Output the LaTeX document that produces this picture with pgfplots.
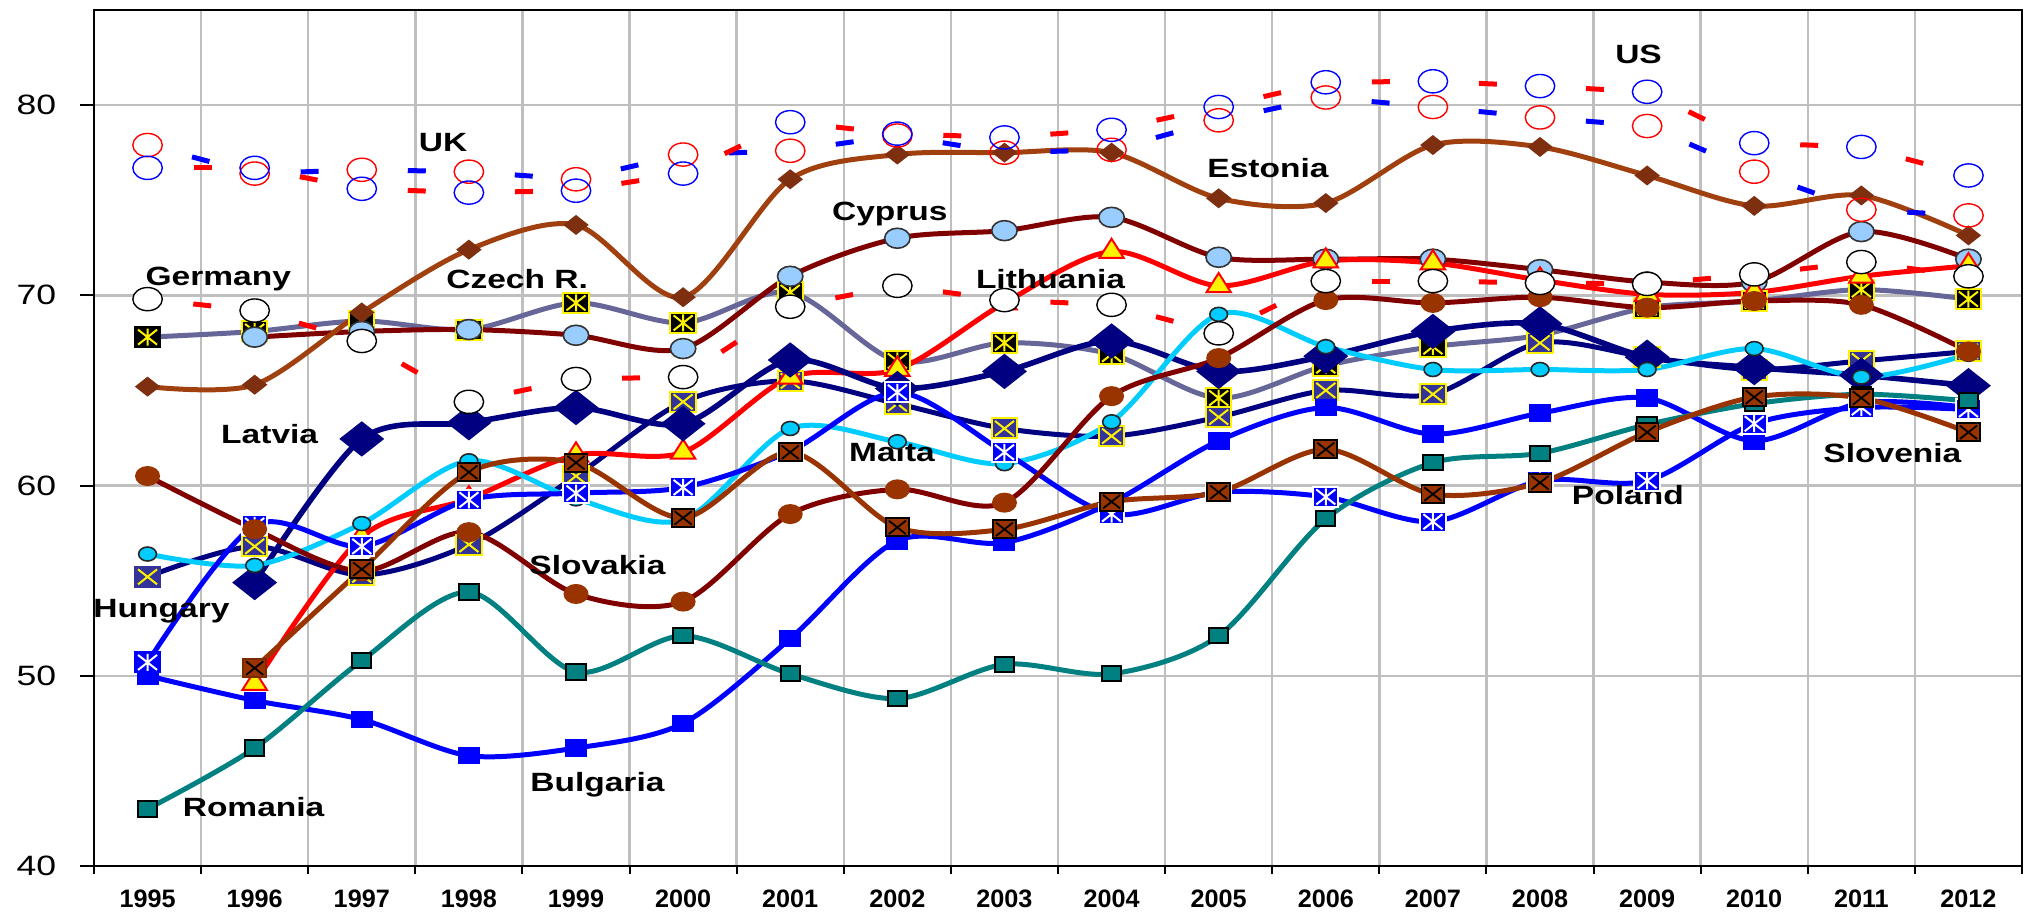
\documentclass[border=0pt]{standalone}
\usepackage{fontspec}
\setmainfont[FakeStretch=1.27]{Liberation Sans}
\newfontfamily\plainfont{Liberation Sans}
\usepackage{pgfplots}
\pgfplotsset{compat=1.18}
\usepackage{pgfplotstable}

\definecolor{cEE}{HTML}{A0400F}
\definecolor{cEEm}{HTML}{7E2F10}
\definecolor{cmaroon}{HTML}{800000}
\definecolor{cltblue}{HTML}{99CCFF}
\definecolor{cgrape}{HTML}{666699}
\definecolor{cnavy}{HTML}{000080}
\definecolor{cslate}{HTML}{333399}
\definecolor{ccyan}{HTML}{00CCFF}
\definecolor{csienna}{HTML}{993300}
\definecolor{cteal}{HTML}{008080}

% composite marks: filled square with a cross / asterisk on top
\newcommand\marksquare{\pgfpathrectangle{\pgfqpoint{-\pgfplotmarksize}{-\pgfplotmarksize}}{\pgfqpoint{2\pgfplotmarksize}{2\pgfplotmarksize}}\pgfusepathqfillstroke}
\newcommand\markx{\pgfpathmoveto{\pgfqpoint{-.75\pgfplotmarksize}{-.75\pgfplotmarksize}}\pgfpathlineto{\pgfqpoint{.75\pgfplotmarksize}{.75\pgfplotmarksize}}\pgfpathmoveto{\pgfqpoint{-.75\pgfplotmarksize}{.75\pgfplotmarksize}}\pgfpathlineto{\pgfqpoint{.75\pgfplotmarksize}{-.75\pgfplotmarksize}}}
\newcommand\markbar{\pgfpathmoveto{\pgfqpoint{0pt}{-.85\pgfplotmarksize}}\pgfpathlineto{\pgfqpoint{0pt}{.85\pgfplotmarksize}}}
\pgfdeclareplotmark{sqxy}{\marksquare\pgfsetstrokecolor{yellow}\markx\pgfusepathqstroke}
\pgfdeclareplotmark{sqxk}{\marksquare\pgfsetstrokecolor{black}\markx\pgfusepathqstroke}
\pgfdeclareplotmark{sqay}{\marksquare\pgfsetstrokecolor{yellow}\markx\markbar\pgfusepathqstroke}
\pgfdeclareplotmark{sqaw}{\marksquare\pgfsetstrokecolor{white}\markx\markbar\pgfusepathqstroke}
\pgfdeclareplotmark{dia}{\pgfpathmoveto{\pgfqpoint{0pt}{\pgfplotmarksize}}\pgfpathlineto{\pgfqpoint{\pgfplotmarksize}{0pt}}\pgfpathlineto{\pgfqpoint{0pt}{-\pgfplotmarksize}}\pgfpathlineto{\pgfqpoint{-\pgfplotmarksize}{0pt}}\pgfpathclose\pgfusepathqfillstroke}

\newcommand\ytfont{\fontsize{7pt}{8pt}\selectfont}
\newcommand\yrfont{\plainfont\fontsize{6.3pt}{7pt}\selectfont\bfseries}
\newcommand\lblfont{\fontsize{6.6pt}{7.5pt}\selectfont\bfseries}

% columns: US (blue circles), UK (red circles), then the EU countries
\pgfplotstableread{
i  US    UK    DE    EE    CY    LT    CZ    LV    HU    MT    SK    PL    BG    RO    SI
0  76.7  77.9  69.8  65.2  nan   nan   67.8  nan   55.2  56.4  60.5  50.7  50.0  43.0  nan
1  76.7  76.4  69.2  65.3  67.8  49.6  68.1  54.9  56.8  55.8  57.7  57.9  48.7  46.2  50.4
2  75.6  76.6  67.6  69.1  68.1  57.3  68.65 62.45 55.3  58.0  55.5  56.8  47.7  50.8  55.6
3  75.4  76.5  64.4  72.4  68.2  59.3  68.2  63.3  56.9  61.3  57.55 59.25 45.8  54.4  60.7
4  75.5  76.1  65.6  73.7  67.9  61.6  69.6  64.1  60.5  59.3  54.3  59.6  46.2  50.2  61.2
5  76.4  77.4  65.7  69.9  67.2  61.75 68.55 63.25 64.4  58.2  53.9  59.9  47.5  52.1  58.3
6  79.1  77.6  69.4  76.1  71.0  65.7  70.15 66.6  65.5  63.0  58.5  61.8  51.95 50.1  61.75
7  78.5  78.4  70.5  77.4  73.0  66.1  66.55 65.1  64.3  62.3  59.8  64.9  57.1  48.8  57.8
8  78.3  77.5  69.75 77.5  73.4  69.6  67.5  66.0  63.0  61.15 59.1  61.75 57.0  50.6  57.7
9  78.7  77.65 69.5  77.5  74.1  72.3  66.9  67.6  62.6  63.35 64.7  58.5  59.1  50.1  59.15
10 79.9  79.2  68.0  75.1  72.0  70.5  64.6  66.0  63.6  69.0  66.7  59.65 62.35 52.1  59.65
11 81.2  80.4  70.75 74.85 71.9  71.8  66.3  66.8  65.0  67.3  69.75 59.4  64.1  58.25 61.9
12 81.25 79.9  70.75 77.9  71.9  71.7  67.3  68.1  64.8  66.1  69.6  58.1  62.7  61.2  59.55
13 81.0  79.35 70.65 77.8  71.35 70.8  67.9  68.5  67.5  66.1  69.9  60.25 63.8  61.7  60.15
14 80.7  78.9  70.6  76.3  70.7  70.05 69.35 66.75 66.75 66.1  69.35 60.25 64.6  63.2  62.8
15 78.0  76.5  71.1  74.7  70.7  70.15 69.7  66.2  66.1  67.2  69.7  63.25 62.35 64.3  64.65
16 77.8  74.5  71.75 75.25 73.35 71.0  70.3  65.8  66.55 65.7  69.5  64.1  64.35 64.8  64.6
17 76.3  74.2  71.0  73.15 71.9  71.55 69.8  65.25 67.05 66.9  67.05 64.0  64.1  64.45 62.8
}\data
% step to the next year, so each dashed segment is its own path (one dash per segment)
\pgfplotstablecreatecol[create col/expr={\nextrow{US}-\thisrow{US}}]{dUS}{\data}
\pgfplotstablecreatecol[create col/expr={\nextrow{UK}-\thisrow{UK}}]{dUK}{\data}
\pgfplotstablecreatecol[create col/expr={\nextrow{DE}-\thisrow{DE}}]{dDE}{\data}

\begin{document}
\begin{tikzpicture}
\begin{axis}[
    scale only axis,
    width=482pt, height=214pt,
    xmin=-0.5, xmax=17.5, ymin=40, ymax=85,
    xtick={0,...,17},
    xticklabels={1995,1996,1997,1998,1999,2000,2001,2002,2003,2004,2005,2006,2007,2008,2009,2010,2011,2012},
    minor xtick={-0.5,0.5,...,17.5},
    ytick={40,50,60,70,80},
    yticklabels={40,50,60,70,80},
    tick pos=left, tick align=outside,
    major tick length=3.5pt, minor tick length=2pt,
    tick style={black, line width=0.5pt},
    major x tick style={draw=none},
    xminorgrids, ymajorgrids,
    grid style={gray!50, line width=0.6pt},
    minor grid style={gray!50, line width=0.6pt},
    axis line style={black, line width=0.55pt},
    xticklabel style={font=\yrfont, inner sep=0pt, yshift=-2.4pt},
    yticklabel style={font=\ytfont, xshift=-2.4pt},
    every axis plot/.append style={line width=1.25pt, smooth},
    unbounded coords=discard,
    dashseg/.style={no markers, line width=1.25pt, restrict x to domain=-1:16.5,
        dash pattern=on 4.5pt off 100pt, dash phase=93pt},
]
% Czech R.
\addplot[cgrape, mark=sqay, mark size=2.5pt, mark options={fill=black, draw=black, line width=0.5pt, xscale=1.27}] table[x=i, y=CZ] {\data};
% Hungary
\addplot[cnavy, mark=sqxy, mark size=2.5pt, mark options={fill=cslate, draw=cslate, line width=0.5pt, xscale=1.27}] table[x=i, y=HU] {\data};
% Cyprus
\addplot[cmaroon, mark=*, mark size=2.5pt, mark options={fill=cltblue, draw=black!80, line width=0.4pt, xscale=1.27}] table[x=i, y=CY] {\data};
% Lithuania
\addplot[red, mark=triangle*, mark size=3.2pt, mark options={fill=yellow, draw=red, line width=0.5pt, xscale=1.1}] table[x=i, y=LT] {\data};
% Latvia
\addplot[cnavy, line width=1.4pt, mark=dia, mark size=4.1pt, mark options={fill=cnavy, draw=cnavy, line width=0.5pt, xscale=1.27}] table[x=i, y=LV] {\data};
% Estonia
\addplot[cEE, mark=dia, mark size=2.25pt, mark options={fill=cEEm, draw=cEEm, line width=0.4pt, xscale=1.27}] table[x=i, y=EE] {\data};
% Malta
\addplot[ccyan, mark=*, mark size=1.75pt, mark options={fill=ccyan, draw=black!85, line width=0.4pt, xscale=1.27}] table[x=i, y=MT] {\data};
% Bulgaria
\addplot[blue, mark=square*, mark size=2pt, mark options={fill=blue, draw=blue, line width=0.4pt, xscale=1.27}] table[x=i, y=BG] {\data};
% Poland
\addplot[blue, mark=sqaw, mark size=2.5pt, mark options={fill=blue, draw=blue, line width=0.5pt, xscale=1.27}] table[x=i, y=PL] {\data};
% Romania
\addplot[cteal, mark=square*, mark size=1.9pt, mark options={fill=cteal, draw=black, line width=0.5pt, xscale=1.27}] table[x=i, y=RO] {\data};
% Slovakia
\addplot[cmaroon, mark=*, mark size=2.3pt, mark options={fill=csienna, draw=csienna, line width=0.4pt, xscale=1.27}] table[x=i, y=SK] {\data};
% Slovenia
\addplot[csienna, mark=sqxk, mark size=2.25pt, mark options={fill=csienna, draw=csienna!80!black, line width=0.45pt, xscale=1.27}] table[x=i, y=SI] {\data};
% Germany: dashed, one dash in the middle of each segment
\addplot[red, dashseg, quiver={u=1, v=\thisrow{dDE}}] table[x=i, y=DE] {\data};
\addplot[only marks, mark=*, mark size=2.9pt, mark options={fill=white, draw=black, line width=0.35pt, xscale=1.27}] table[x=i, y=DE] {\data};
% UK / US pair
\addplot[blue, dashseg, quiver={u=1, v=\thisrow{dUK}}] table[x=i, y=UK] {\data};
\addplot[red, dashseg, quiver={u=1, v=\thisrow{dUS}}] table[x=i, y=US] {\data};
\addplot[only marks, mark=o, mark size=2.9pt, mark options={draw=red, line width=0.35pt, xscale=1.27}] table[x=i, y=UK] {\data};
\addplot[only marks, mark=o, mark size=2.9pt, mark options={draw=blue, line width=0.35pt, xscale=1.27}] table[x=i, y=US] {\data};

\node[font=\lblfont] at (axis cs:2.76,78.04) {UK};
\node[font=\lblfont] at (axis cs:13.92,82.66) {US};
\node[font=\lblfont] at (axis cs:0.66,70.85) {Germany};
\node[font=\lblfont] at (axis cs:3.45,70.85) {Czech R.};
\node[font=\lblfont] at (axis cs:1.14,62.72) {Latvia};
\node[font=\lblfont] at (axis cs:0.13,53.38) {Hungary};
\node[font=\lblfont] at (axis cs:4.2,55.8) {Slovakia};
\node[font=\lblfont] at (axis cs:0.99,43.1) {Romania};
\node[font=\lblfont] at (axis cs:4.2,44.26) {Bulgaria};
\node[font=\lblfont] at (axis cs:6.95,61.77) {Malta};
\node[font=\lblfont] at (axis cs:6.93,74.27) {Cyprus};
\node[font=\lblfont] at (axis cs:8.43,70.85) {Lithuania};
\node[font=\lblfont] at (axis cs:10.46,76.68) {Estonia};
\node[font=\lblfont] at (axis cs:13.82,59.5) {Poland};
\node[font=\lblfont] at (axis cs:16.29,61.72) {Slovenia};
\end{axis}
\path (current axis.south west) ++(-23.5pt,-12.75pt) rectangle ([shift={(2.25pt,2.5pt)}]current axis.north east);
\end{tikzpicture}
\end{document}
